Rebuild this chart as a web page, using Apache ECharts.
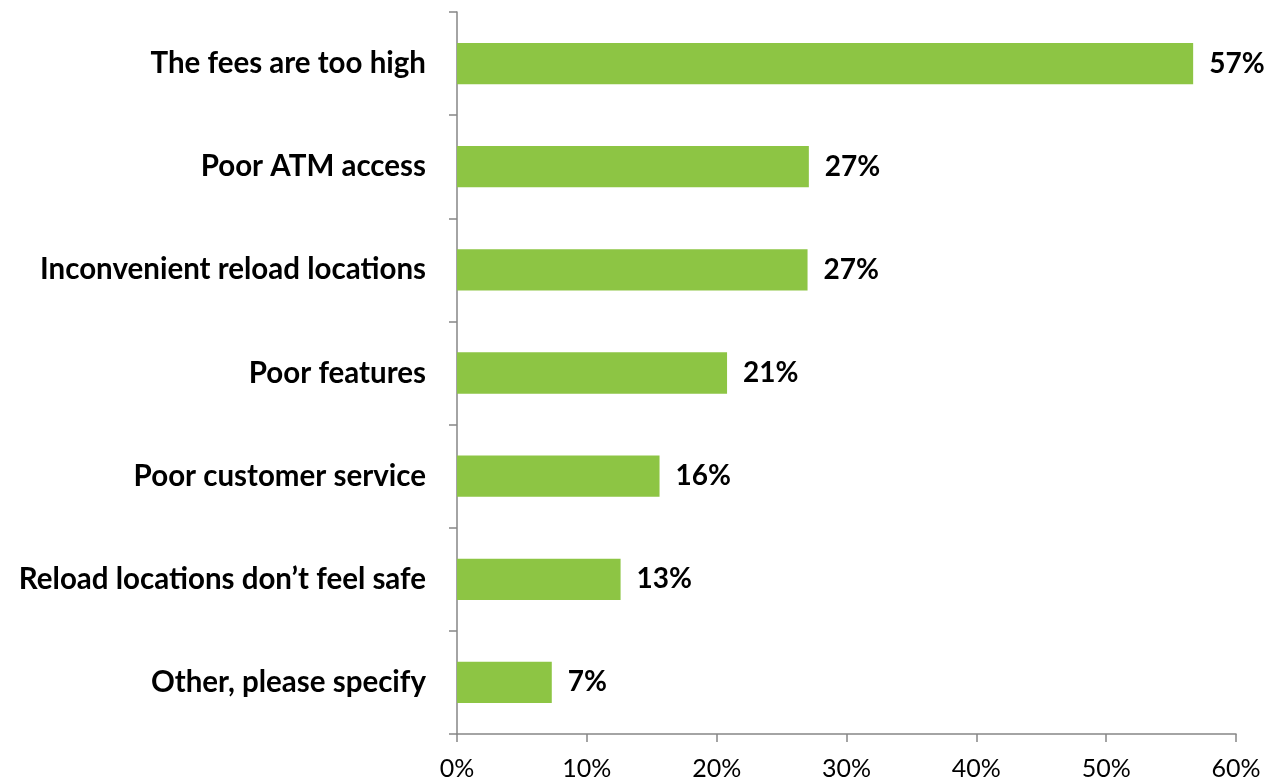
<!DOCTYPE html>
<html><head><meta charset="utf-8">
<script src="https://cdn.jsdelivr.net/npm/echarts@6/dist/echarts.min.js"></script>
<style>html,body{margin:0;padding:0;background:#fff}#c{width:1266px;height:781px}</style>
</head><body><div id="c"></div>
<script>
const categories = ["The fees are too high","Poor ATM access","Inconvenient reload locations","Poor features","Poor customer service","Reload locations don\u2019t feel safe","Other, please specify"];
const values = [56.7, 27.1, 27.0, 20.8, 15.6, 12.6, 7.3];
const labels = ["57%","27%","27%","21%","16%","13%","7%"];
const xTicks = [0,10,20,30,40,50,60];
const FONT = 'Lato, "Open Sans", sans-serif';
const chart = echarts.init(document.getElementById('c'), null, {renderer:'canvas'});
chart.setOption({
  animation:false,
  grid:{left:457,right:30,top:12,bottom:46,containLabel:false},
  xAxis:{type:'value',min:0,max:60,interval:10,
    axisLine:{show:true,lineStyle:{color:'#868686',width:1.5}},
    axisTick:{show:true,length:8,lineStyle:{color:'#868686',width:1.5}},
    splitLine:{show:false},
    axisLabel:{formatter:v=>v+'%',color:'#000',fontFamily:FONT,fontSize:25,margin:22}},
  yAxis:{type:'category',data:categories,inverse:true,
    axisLine:{show:true,lineStyle:{color:'#868686',width:1.5}},
    axisTick:{show:true,length:8,alignWithLabel:false,lineStyle:{color:'#868686',width:1.5}},
    axisLabel:{color:'#000',fontFamily:FONT,fontWeight:'bold',fontSize:29.5,margin:31}},
  series:[{type:'bar',data:values,barWidth:'40%',
    itemStyle:{color:'#8DC544'},
    label:{show:true,position:'right',distance:16,color:'#000',fontFamily:FONT,fontWeight:'bold',fontSize:28,
      formatter:p=>labels[p.dataIndex]}}]
});
</script></body></html>
